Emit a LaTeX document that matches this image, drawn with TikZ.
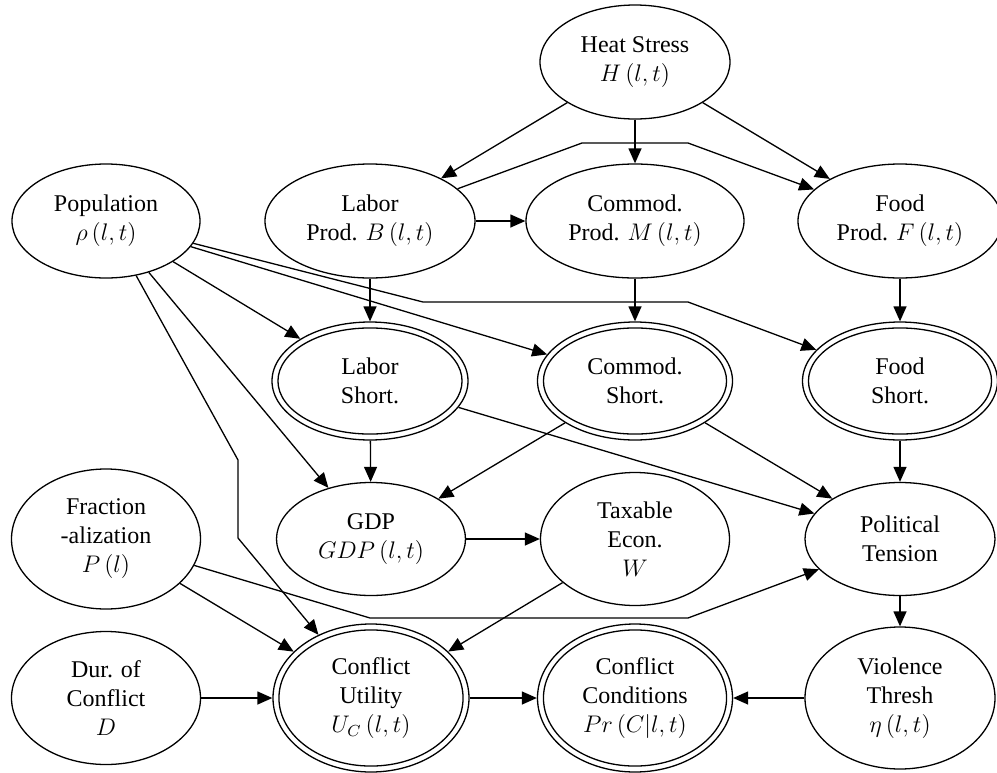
\documentclass[tikz,border=0pt]{standalone}
\usepackage[no-math]{fontspec}
\setmainfont{Liberation Serif}
\usetikzlibrary{shapes.geometric,arrows.meta,calc}
\newcommand\dblring[1]{\draw[line width=0.65pt] let \p1=(#1.east), \p2=(#1.north), \p3=(#1.center) in (\p3) ellipse ({\x1-\x3-3.3pt} and {\y2-\y3-3.3pt});}
\begin{document}
\begin{tikzpicture}[x=0.5pt,y=-0.5pt,
  nd/.style={ellipse,draw,line width=0.65pt,inner sep=0pt,align=center,
    font=\fontsize{12}{14.5}\selectfont},
  arr/.style={line width=0.65pt,-{Triangle[length=7.5pt,width=6.5pt]}}
]
\useasboundingbox (0,0) rectangle (997,772);
% row 1
\node[nd,minimum width=95pt,minimum height=57pt] (hs) at (635,62) {Heat Stress\\$H\left(l,t\right)$};
% row 2
\node[nd,minimum width=94pt,minimum height=57pt] (pop) at (106,221) {Population\\$\rho\left(l,t\right)$};
\node[nd,minimum width=105pt,minimum height=57pt] (lp) at (370,221) {Labor\\Prod. $B\left(l,t\right)$};
\node[nd,minimum width=109pt,minimum height=57pt] (cp) at (635,221) {Commod.\\Prod. $M\left(l,t\right)$};
\node[nd,minimum width=102pt,minimum height=57pt] (fp) at (900,221) {Food\\Prod. $F\left(l,t\right)$};
% row 3
\node[nd,minimum width=98pt,minimum height=59pt] (ls) at (370,381) {Labor\\Short.};
\node[nd,minimum width=97.5pt,minimum height=59pt] (cs) at (635,381) {Commod.\\Short.};
\node[nd,minimum width=97.5pt,minimum height=59pt] (fs) at (900,381) {Food\\Short.};
% row 4
\node[nd,minimum width=94.5pt,minimum height=70pt] (fr) at (106,539) {Fraction\\-alization\\$P\left(l\right)$};
\node[nd,minimum width=94.5pt,minimum height=56.5pt] (gdp) at (371,539) {GDP\\$GDP\left(l,t\right)$};
\node[nd,minimum width=94.5pt,minimum height=66.5pt] (tx) at (635,539) {Taxable\\Econ.\\$W$};
\node[nd,minimum width=95pt,minimum height=56.5pt] (pt) at (900,539) {Political\\Tension};
% row 5
\node[nd,minimum width=94.5pt,minimum height=66.5pt] (dur) at (106,698) {Dur. of\\Conflict\\$D$};
\node[nd,minimum width=98pt,minimum height=74pt] (cu) at (371,698) {Conflict\\Utility\\$U_C\left(l,t\right)$};
\node[nd,minimum width=97.5pt,minimum height=74pt] (cc) at (635,698) {Conflict\\Conditions\\$Pr\left(C|l,t\right)$};
\node[nd,minimum width=95pt,minimum height=71pt] (vt) at (900,698) {Violence\\Thresh\\$\eta\left(l,t\right)$};
% inner rings
\dblring{ls}
\dblring{cs}
\dblring{fs}
\dblring{cu}
\dblring{cc}
% bend points
\coordinate (a1) at (582,143);
\coordinate (a2) at (688,143);
\coordinate (b1) at (423,302);
\coordinate (b2) at (688,302);
\coordinate (c1) at (238,460);
\coordinate (c2) at (238,538);
\coordinate (d1) at (370,618);
\coordinate (d2) at (688,618);
% edges
\draw[arr] (hs) -- (lp);
\draw[arr] (hs) -- (cp);
\draw[arr] (hs) -- (fp);
\draw[arr] (lp) -- (a1) -- (a2) -- (fp);
\draw[arr] (lp) -- (cp);
\draw[arr] (lp) -- (ls);
\draw[arr] (cp) -- (cs);
\draw[arr] (fp) -- (fs);
\draw[arr] (pop) -- (ls);
\draw[arr] (pop) -- (cs);
\draw[arr] (pop) -- (gdp);
\draw[arr] (pop) -- (b1) -- (b2) -- (fs);
\draw[arr] (pop) -- (c1) -- (c2) -- (cu);
\draw[arr] (ls) -- (gdp);
\draw[arr] (ls) -- (pt);
\draw[arr] (cs) -- (gdp);
\draw[arr] (cs) -- (pt);
\draw[arr] (fs) -- (pt);
\draw[arr] (gdp) -- (tx);
\draw[arr] (fr) -- (d1) -- (d2) -- (pt);
\draw[arr] (fr) -- (cu);
\draw[arr] (tx) -- (cu);
\draw[arr] (pt) -- (vt);
\draw[arr] (dur) -- (cu);
\draw[arr] (cu) -- (cc);
\draw[arr] (vt) -- (cc);
\end{tikzpicture}
\end{document}
